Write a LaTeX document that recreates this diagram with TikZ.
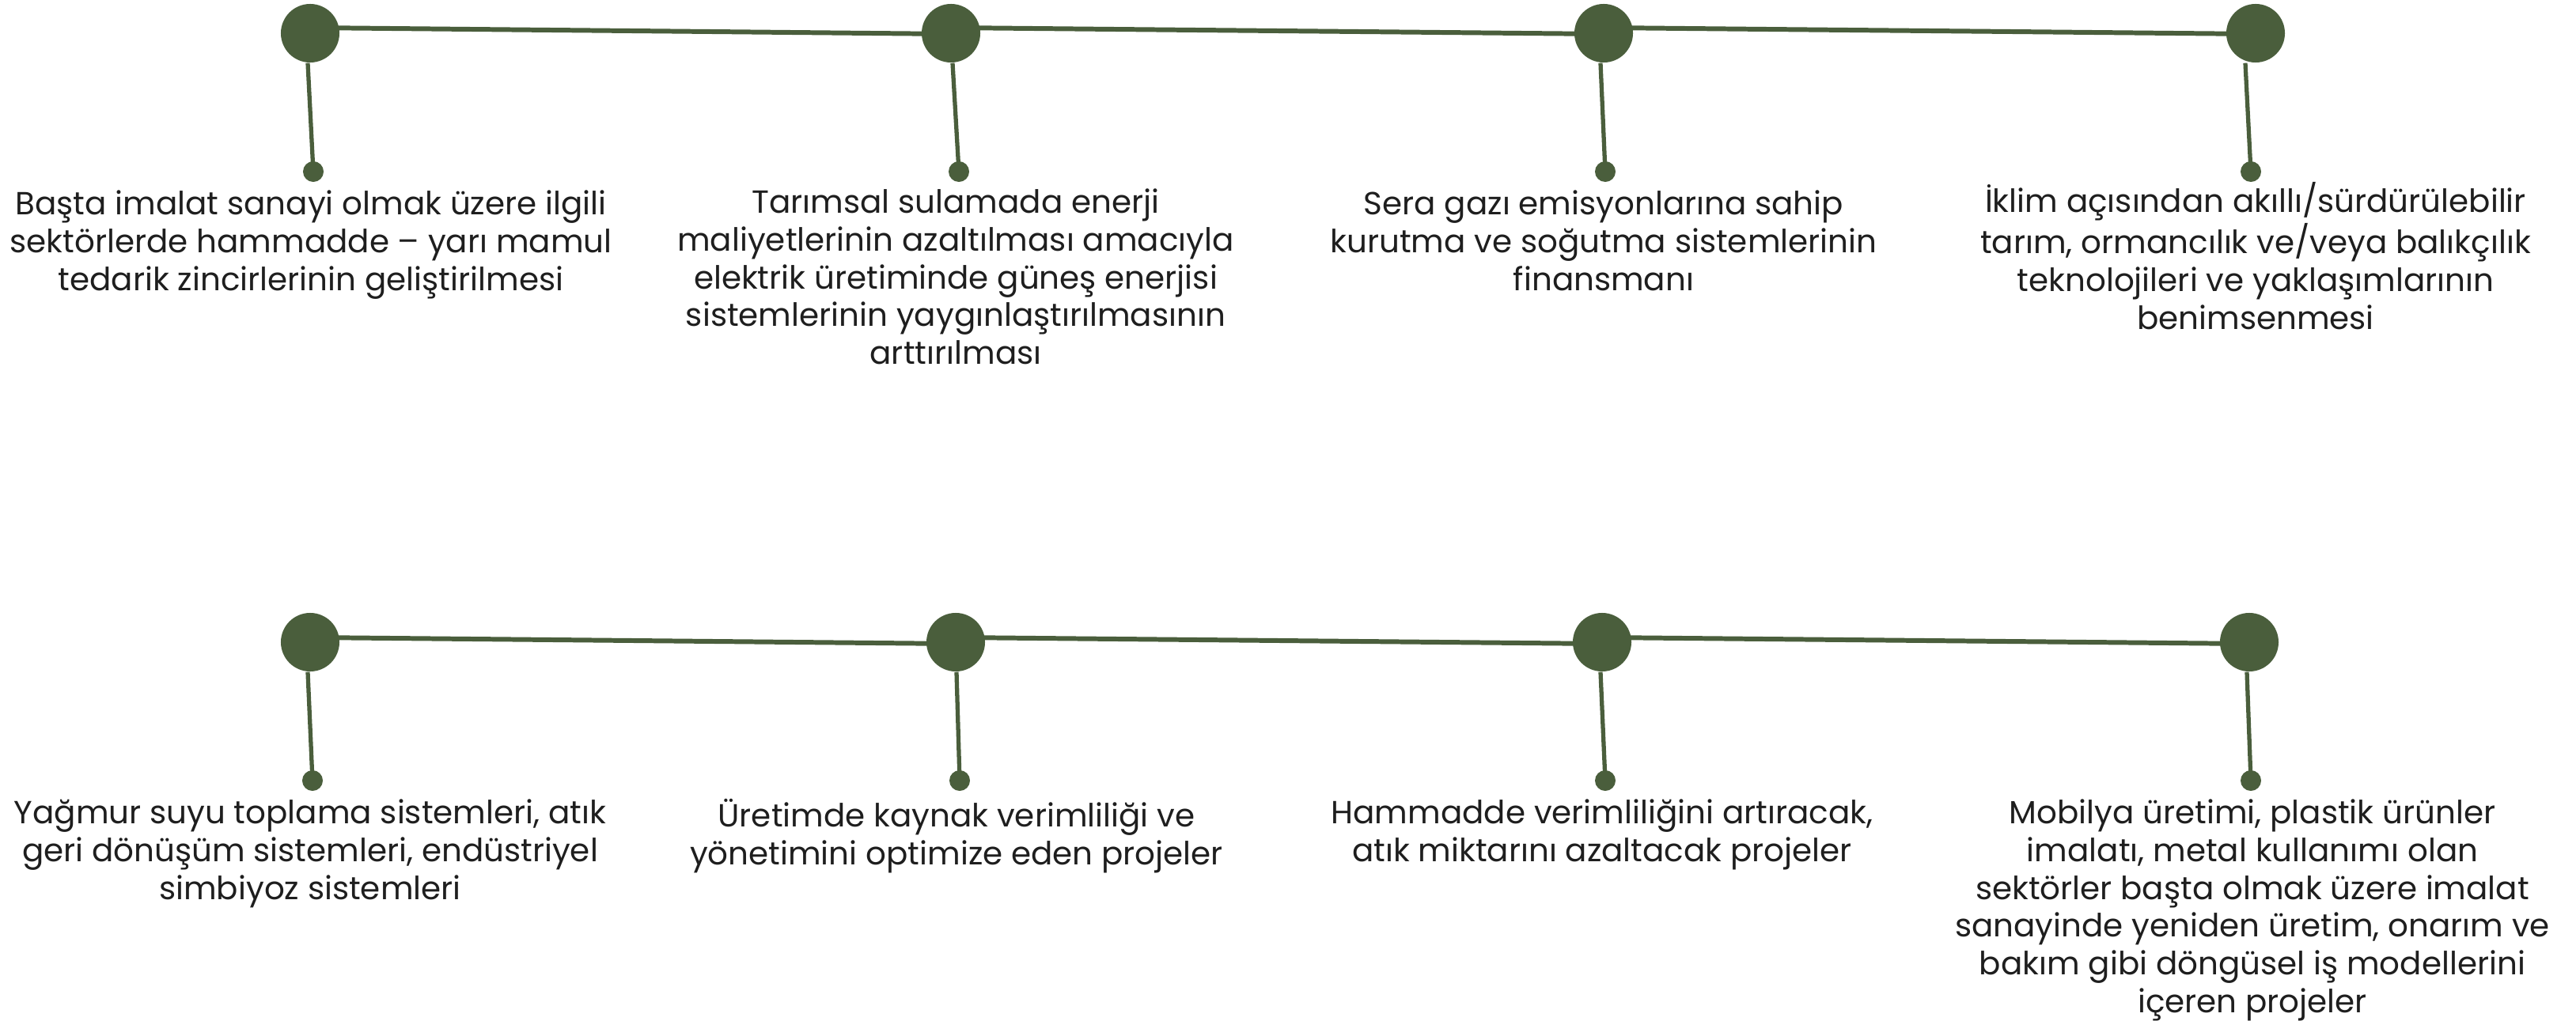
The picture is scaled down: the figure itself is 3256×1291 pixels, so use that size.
\documentclass[tikz,border=0pt]{standalone}
\usepackage{fontspec}
\setmainfont{Poppins}
\definecolor{leaf}{RGB}{74,94,60}
\definecolor{ink}{RGB}{30,30,30}
\begin{document}
\begin{tikzpicture}[x=0.01cm,y=-0.01cm,
  big/.style={circle,fill=leaf,draw=none,minimum size=0.74cm,inner sep=0},
  dot/.style={circle,fill=leaf,draw=none,minimum size=0.26cm,inner sep=0},
  link/.style={draw=leaf,line width=1.7pt},
  stem/.style={draw=leaf,line width=1.5pt},
  lbl/.style={anchor=north,align=center,inner sep=0,text=ink,font=\fontsize{11.5}{13.6}\selectfont}]
\useasboundingbox (0,0) rectangle (3256,1291);
% top row
\node[big] (t1) at (392,42) {};
\node[big] (t2) at (1202,42) {};
\node[big] (t3) at (2027,42) {};
\node[big] (t4) at (2851,42) {};
\node[dot] (d1) at (396,217) {};
\node[dot] (d2) at (1212,217) {};
\node[dot] (d3) at (2029,217) {};
\node[dot] (d4) at (2845,217) {};
\draw[link] ([yshift=0.07cm]t1.center) -- ([yshift=-0.01cm]t2.center);
\draw[link] ([yshift=0.07cm]t2.center) -- ([yshift=-0.01cm]t3.center);
\draw[link] ([yshift=0.07cm]t3.center) -- ([yshift=-0.01cm]t4.center);
\draw[stem] ([xshift=-0.03cm]t1.south) -- (d1.center);
\draw[stem] ([xshift=0.02cm]t2.south) -- (d2.center);
\draw[stem] ([xshift=-0.04cm]t3.south) -- (d3.center);
\draw[stem] ([xshift=-0.13cm]t4.south) -- (d4.center);
\node[lbl] (x1) at (393,240) {Başta imalat sanayi olmak üzere ilgili\\sektörlerde hammadde – yarı mamul\\tedarik zincirlerinin geliştirilmesi};
\node[lbl] (x2) at (1208,238) {Tarımsal sulamada enerji\\maliyetlerinin azaltılması amacıyla\\elektrik üretiminde güneş enerjisi\\sistemlerinin yaygınlaştırılmasının\\arttırılması};
\node[lbl] (x3) at (2027,240) {Sera gazı emisyonlarına sahip\\kurutma ve soğutma sistemlerinin\\finansmanı};
\node[lbl] (x4) at (2851,230) {İklim açısından akıllı/sürdürülebilir\\tarım, ormancılık ve/veya balıkçılık\\teknolojileri ve yaklaşımlarının\\benimsenmesi};
% bottom row
\node[big] (b1) at (392,812) {};
\node[big] (b2) at (1208,812) {};
\node[big] (b3) at (2025,812) {};
\node[big] (b4) at (2843,812) {};
\node[dot] (e1) at (395,987) {};
\node[dot] (e2) at (1213,987) {};
\node[dot] (e3) at (2029,987) {};
\node[dot] (e4) at (2845,987) {};
\draw[link] ([yshift=0.06cm]b1.center) -- ([yshift=-0.02cm]b2.center);
\draw[link] ([yshift=0.06cm]b2.center) -- ([yshift=-0.02cm]b3.center);
\draw[link] ([yshift=0.06cm]b3.center) -- ([yshift=-0.02cm]b4.center);
\draw[stem] ([xshift=-0.03cm]b1.south) -- (e1.center);
\draw[stem] ([xshift=0.01cm]b2.south) -- (e2.center);
\draw[stem] ([xshift=-0.02cm]b3.south) -- (e3.center);
\draw[stem] ([xshift=-0.03cm]b4.south) -- (e4.center);
\node[lbl] (y1) at (392,1010) {Yağmur suyu toplama sistemleri, atık\\geri dönüşüm sistemleri, endüstriyel\\simbiyoz sistemleri};
\node[lbl] (y2) at (1209,1010) {Üretimde kaynak verimliliği ve\\yönetimini optimize eden projeler};
\node[lbl] (y3) at (2025,1010) {Hammadde verimliliğini artıracak,\\atık miktarını azaltacak projeler};
\node[lbl] (y4) at (2847,1010) {Mobilya üretimi, plastik ürünler\\imalatı, metal kullanımı olan\\sektörler başta olmak üzere imalat\\sanayinde yeniden üretim, onarım ve\\bakım gibi döngüsel iş modellerini\\içeren projeler};
\end{tikzpicture}
\end{document}
